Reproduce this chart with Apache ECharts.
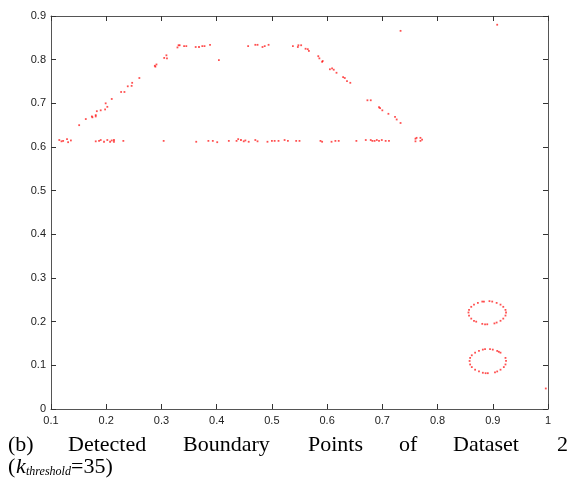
<!DOCTYPE html>
<html>
<head>
<meta charset="utf-8">
<script src="https://cdn.jsdelivr.net/npm/echarts@6/dist/echarts.min.js"></script>
<style>
html,body{margin:0;padding:0;background:#fff;}
#chart{width:571px;height:489px;}
</style>
</head>
<body>
<div id="chart"></div>
<script>
// ---- tick labels ----
var xTickLabels = ['0.1','0.2','0.3','0.4','0.5','0.6','0.7','0.8','0.9','1'];
var yTickLabels = ['0','0.1','0.2','0.3','0.4','0.5','0.6','0.7','0.8','0.9'];

// ---- detected boundary points (x, y) ----
var risingEdge = [
  [0.331,0.833],[0.329,0.828],[0.309,0.810],[0.305,0.804],[0.310,0.803],
  [0.288,0.786],[0.289,0.784],[0.291,0.789],[0.260,0.758],[0.247,0.747],[0.246,0.740],
  [0.239,0.739],[0.233,0.726],[0.227,0.726],[0.210,0.710],[0.199,0.700],
  [0.202,0.692],[0.198,0.686],[0.190,0.684],[0.183,0.682],[0.181,0.673],
  [0.181,0.670],[0.174,0.670],[0.175,0.668],[0.163,0.664],[0.151,0.650]
];
var topEdge = [
  [0.333,0.833],[0.341,0.831],[0.345,0.831],[0.362,0.829],[0.368,0.829],
  [0.374,0.831],[0.378,0.831],[0.388,0.834],[0.457,0.831],[0.470,0.834],
  [0.474,0.834],[0.483,0.829],[0.487,0.831],[0.494,0.834],[0.538,0.831],
  [0.548,0.833],[0.547,0.829],[0.553,0.833]
];
var fallingEdge = [
  [0.561,0.825],[0.565,0.824],[0.567,0.820],[0.584,0.808],[0.586,0.803],
  [0.591,0.795],[0.592,0.797],[0.605,0.778],[0.609,0.780],[0.612,0.777],
  [0.617,0.770],[0.629,0.760],[0.632,0.758],[0.636,0.751],[0.642,0.747],
  [0.673,0.707],[0.679,0.707],[0.694,0.691],[0.696,0.689],[0.700,0.684],
  [0.711,0.676],[0.723,0.669],[0.726,0.663],[0.733,0.655]
];
var bottomEdge = [
  [0.115,0.616],[0.119,0.613],[0.122,0.614],[0.129,0.618],[0.131,0.611],[0.136,0.615],
  [0.181,0.613],[0.187,0.614],[0.190,0.616],[0.196,0.612],[0.202,0.616],
  [0.207,0.612],[0.210,0.615],[0.214,0.616],[0.214,0.612],[0.231,0.614],[0.304,0.614],
  [0.363,0.612],[0.385,0.614],[0.393,0.614],[0.401,0.611],[0.422,0.614],
  [0.436,0.614],[0.439,0.618],[0.444,0.616],[0.449,0.613],[0.452,0.615],
  [0.458,0.612],[0.470,0.616],[0.474,0.613],[0.492,0.612],[0.500,0.614],
  [0.505,0.614],[0.512,0.614],[0.523,0.616],[0.529,0.614],[0.544,0.614],
  [0.550,0.614],[0.588,0.614],[0.591,0.612],[0.608,0.612],[0.615,0.614],
  [0.621,0.614],[0.653,0.614],[0.670,0.616],[0.679,0.616],[0.682,0.614],
  [0.686,0.614],[0.690,0.616],[0.694,0.614],[0.699,0.616],[0.706,0.614],
  [0.712,0.614],[0.760,0.619],[0.762,0.621],[0.769,0.621],[0.772,0.617],
  [0.760,0.613],[0.769,0.614]
];
var upperRing = [
  [0.924,0.221],[0.923,0.227],[0.919,0.234],[0.914,0.239],
  [0.907,0.243],[0.899,0.246],[0.894,0.247],[0.884,0.246],[0.881,0.246],
  [0.873,0.243],[0.866,0.239],[0.861,0.234],[0.857,0.227],
  [0.856,0.221],[0.857,0.214],[0.861,0.207],[0.866,0.202],[0.870,0.200],
  [0.881,0.195],[0.886,0.194],[0.890,0.194],[0.903,0.196],
  [0.907,0.198],[0.914,0.202],[0.919,0.207],[0.923,0.214]
];
var lowerRing = [
  [0.924,0.110],[0.923,0.117],[0.914,0.129],[0.911,0.131],[0.908,0.133],
  [0.900,0.136],[0.895,0.137],[0.886,0.137],[0.882,0.136],[0.875,0.133],
  [0.868,0.129],[0.862,0.123],[0.859,0.117],[0.858,0.110],
  [0.859,0.102],[0.862,0.096],[0.868,0.090],[0.875,0.086],[0.882,0.083],
  [0.887,0.082],[0.891,0.082],[0.904,0.084],[0.908,0.086],[0.914,0.090],
  [0.920,0.096],[0.923,0.102]
];
var strayPoints = [
  [0.404,0.799],[0.733,0.866],[0.908,0.880],[0.996,0.047]
];

var chart = echarts.init(document.getElementById('chart'), null, {renderer:'canvas'});

var axisLineStyle = {color:'#555', width:1};
var tickStyle = {color:'#333', width:1};
var labelFont = {color:'#222', fontSize:11, fontFamily:'"Liberation Sans", Arial, sans-serif'};

function xAx(pos, showLabel){
  return {
    type:'value', position:pos, min:0.1, max:1, interval:0.1,
    axisLine:{show:true, onZero:false, lineStyle:axisLineStyle},
    axisTick:{show:true, inside:true, length:5, lineStyle:tickStyle},
    splitLine:{show:false},
    axisLabel:Object.assign({show:showLabel, margin:6, showMinLabel:true, showMaxLabel:true,
      formatter:function(v){ var i=Math.round((v-0.1)/0.1); return xTickLabels[i]; }}, labelFont)
  };
}
function yAx(pos, showLabel){
  return {
    type:'value', position:pos, min:0, max:0.9, interval:0.1,
    axisLine:{show:true, onZero:false, lineStyle:axisLineStyle},
    axisTick:{show:true, inside:true, length:5, lineStyle:tickStyle},
    splitLine:{show:false},
    axisLabel:Object.assign({show:showLabel, margin:5, showMinLabel:true, showMaxLabel:true,
      formatter:function(v){ var i=Math.round(v/0.1); return yTickLabels[i]; }}, labelFont)
  };
}

function sc(data){
  return {type:'scatter', xAxisIndex:0, yAxisIndex:0, data:data, symbol:'rect', symbolSize:1.8,
    itemStyle:{color:'rgba(255,0,0,0.85)'}, silent:true};
}

var capFont = '22px "Liberation Serif", "Times New Roman", serif';
var capItal = 'italic 22px "Liberation Serif", "Times New Roman", serif';
var subItal = 'italic 12px "Liberation Serif", "Times New Roman", serif';
function txt(s, x, y, font){
  return {type:'text', left:x, top:y, silent:true,
    style:{text:s, font:font, fill:'#000'}};
}

chart.setOption({
  animation:false,
  backgroundColor:'#fff',
  grid:{left:51, right:23, top:16, bottom:80, containLabel:false},
  xAxis:[xAx('bottom', true), xAx('top', false)],
  yAxis:[yAx('left', true), yAx('right', false)],
  series:[sc(risingEdge), sc(topEdge), sc(fallingEdge), sc(bottomEdge), sc(upperRing), sc(lowerRing), sc(strayPoints)],
  graphic:[
    txt('(b)', 8, 434, capFont),
    txt('Detected', 68, 434, capFont),
    txt('Boundary', 183, 434, capFont),
    txt('Points', 308, 434, capFont),
    txt('of', 399, 434, capFont),
    txt('Dataset', 453, 434, capFont),
    txt('2', 557, 434, capFont),
    txt('(', 8, 456, capFont),
    txt('k', 16, 456, capItal),
    txt('threshold', 26, 466, subItal),
    txt('=35)', 71, 456, capFont)
  ]
});
</script>
</body>
</html>
